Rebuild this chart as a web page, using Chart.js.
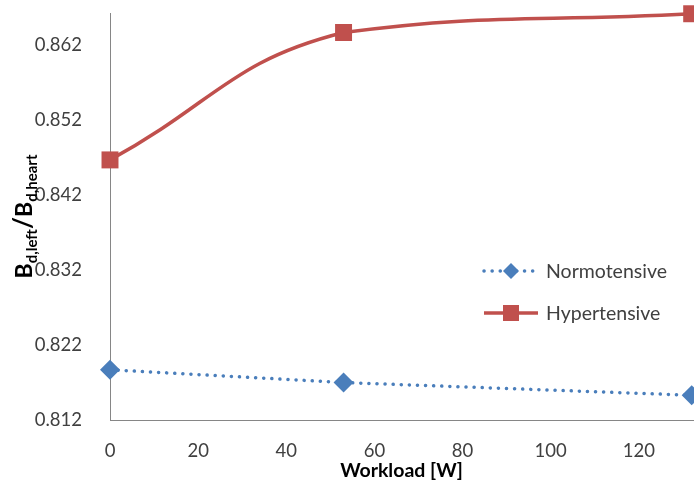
<!DOCTYPE html>
<html><head><meta charset="utf-8">
<script src="https://cdn.jsdelivr.net/npm/chart.js@4"></script>
<style>html,body{margin:0;padding:0;background:#fff}#wrap{width:694px;height:482px}</style>
</head><body><div id="wrap"><canvas id="c" width="694" height="482"></canvas></div>
<script>
const workload = [0, 53, 132];
const normotensive = [0.8187, 0.8170, 0.8153];
const hypertensive = [0.8467, 0.8637, 0.8662];
const seriesNames = ['Normotensive', 'Hypertensive'];
const yTicks = [0.812, 0.822, 0.832, 0.842, 0.852, 0.862];
const xTicks = [0, 20, 40, 60, 80, 100, 120];
const FONT = 'Lato, "Open Sans", sans-serif';
const TXT = '#404040';

function noPad(s) {
  s._calculatePadding = function () { this.paddingLeft = 0; this.paddingRight = 0; this.paddingTop = 0; this.paddingBottom = 0; };
}

const yTitlePlugin = {
  id: 'ytitle',
  afterDraw(chart) {
    const ctx = chart.ctx, a = chart.chartArea;
    ctx.save();
    ctx.translate(26, (a.top + a.bottom) / 2);
    ctx.rotate(-Math.PI / 2);
    ctx.fillStyle = '#000';
    ctx.textBaseline = 'alphabetic';
    const parts = [['B', 23, 0], ['d,left', 15, 5], ['/', 26, 0], ['B', 23, 0], ['d,heart', 15, 5]];
    let w = 0;
    parts.forEach(p => { ctx.font = 'bold ' + p[1] + 'px ' + FONT; w += ctx.measureText(p[0]).width; });
    let x = -w / 2;
    parts.forEach(p => {
      ctx.font = 'bold ' + p[1] + 'px ' + FONT;
      ctx.fillText(p[0], x, 6 + p[2]);
      x += ctx.measureText(p[0]).width;
    });
    ctx.restore();
  }
};

const legendPlugin = {
  id: 'inlegend',
  afterDraw(chart) {
    const ctx = chart.ctx;
    const rows = [271, 313];
    chart.data.datasets.forEach((ds, i) => {
      const y = rows[i];
      ctx.save();
      ctx.strokeStyle = ds.borderColor;
      ctx.lineWidth = ds.borderWidth;
      ctx.lineCap = ds.borderCapStyle || 'butt';
      ctx.setLineDash(ds.borderDash || []);
      ctx.beginPath(); ctx.moveTo(484, y); ctx.lineTo(538, y); ctx.stroke();
      ctx.setLineDash([]);
      ctx.fillStyle = ds.pointBackgroundColor;
      if (ds.pointStyle === 'rectRot') {
        const r = 8;
        ctx.beginPath(); ctx.moveTo(511, y - r); ctx.lineTo(511 + r, y); ctx.lineTo(511, y + r); ctx.lineTo(511 - r, y); ctx.closePath(); ctx.fill();
      } else {
        ctx.fillRect(511 - 8, y - 8, 16, 16);
      }
      ctx.fillStyle = TXT;
      ctx.font = '19.5px ' + FONT;
      ctx.textBaseline = 'middle';
      ctx.fillText(ds.label, 546, y + 1);
      ctx.restore();
    });
  }
};

new Chart(document.getElementById('c'), {
  type: 'line',
  data: {
    datasets: [
      {
        label: seriesNames[0],
        data: workload.map((x, i) => ({ x, y: normotensive[i] })),
        borderColor: '#4A7EBB', backgroundColor: '#4A7EBB',
        pointBackgroundColor: '#4A7EBB', pointBorderColor: '#4A7EBB',
        borderWidth: 3.5, borderDash: [0.1, 8], borderCapStyle: 'round',
        pointStyle: 'rectRot', pointRadius: 10, pointBorderWidth: 0,
        tension: 0, clip: false
      },
      {
        label: seriesNames[1],
        data: workload.map((x, i) => ({ x, y: hypertensive[i] })),
        borderColor: '#C0504D', backgroundColor: '#C0504D',
        pointBackgroundColor: '#C0504D', pointBorderColor: '#C0504D',
        borderWidth: 3.5,
        pointStyle: 'rect', pointRadius: 12, pointBorderWidth: 0,
        tension: 0.45, clip: false
      }
    ]
  },
  options: {
    responsive: false, animation: false,
    layout: { autoPadding: false, padding: { top: 13, right: 1, left: 0, bottom: 0 } },
    plugins: { legend: { display: false }, tooltip: { enabled: false } },
    scales: {
      x: {
        type: 'linear', min: 0, max: 132.3,
        afterBuildTicks(s) { s.ticks = xTicks.map(v => ({ value: v })); },
        beforeFit: noPad,
        afterFit(s) { s.height = 62; },
        grid: { display: false },
        border: { display: true, color: '#868686', width: 1 },
        ticks: { color: TXT, font: { family: FONT, size: 18.5 }, padding: 12, maxRotation: 0, autoSkip: false },
        title: { display: true, text: 'Workload [W]', color: '#000', font: { family: FONT, size: 19.5, weight: 'bold' }, padding: { top: -4, bottom: 0 } }
      },
      y: {
        type: 'linear', min: 0.812, max: 0.8663,
        afterBuildTicks(s) { s.ticks = yTicks.map(v => ({ value: v })); },
        beforeFit: noPad,
        afterFit(s) { s.width = 110; },
        grid: { display: false },
        border: { display: true, color: '#868686', width: 1 },
        ticks: { color: TXT, font: { family: FONT, size: 18.5 }, padding: 20, callback: v => v.toFixed(3), autoSkip: false }
      }
    }
  },
  plugins: [yTitlePlugin, legendPlugin]
});
</script></body></html>
